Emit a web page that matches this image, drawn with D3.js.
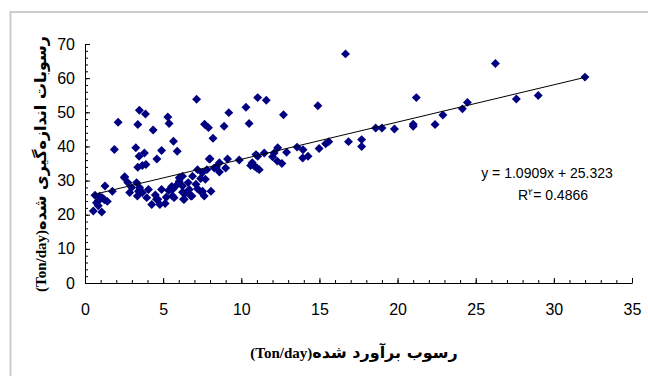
<!DOCTYPE html>
<html lang="fa">
<head>
<meta charset="utf-8">
<title>رسوب</title>
<script src="https://d3js.org/d3.v7.min.js"></script>
<style>
  body { margin: 0; background: #fff; }
  .tick text { font-family: "Liberation Sans", Arial, sans-serif; font-size: 16px; fill: #000; }
  .domain, .tick line { stroke: #000; }
  .eq { font-family: "Liberation Sans", Arial, sans-serif; font-size: 14px; fill: #000; }
  .title { font-weight: bold; fill: #000; }
</style>
</head>
<body>
<div id="chart"></div>
<script>
var w = 648, h = 376;

// estimated sediment (Ton/day)
var xValues = [
  0.53, 1.07, 0.85, 0.73, 0.85, 1.24, 0.64, 0.93, 1.1, 1.28, 1.43, 1.75, 2.52, 2.74, 2.99, 3.3, 3.42, 3.5, 3.35,
  4.06, 3.95, 4.27, 4.5, 4.66, 4.9, 5.2, 5.13, 5.35, 5.55, 5.6, 4.57, 4.79, 3.67, 2.86,
  5.6, 6.24, 6.67, 7.2, 7.52, 8.06, 5.7, 6.35, 6.78, 7.63, 6.24, 6.24, 6.03, 6.6, 7.1, 6.88, 7.4, 7.2, 7.5, 7.8,
  8.4, 8.6, 7.95, 9.12, 9.87, 10.6, 11.0, 10.94, 8.27, 9.0, 8.6, 7.7, 7.48, 5.81, 6.03, 6.4, 6.3, 6.84,
  1.88, 2.12, 3.25, 3.46, 3.8, 3.38, 3.67, 3.9, 4.6, 4.9, 4.36, 3.48, 3.87, 3.38, 5.3, 5.38, 5.66, 5.9,
  7.14, 7.65, 7.9, 8.19, 8.9, 9.2, 10.3, 10.5, 11.05, 11.6, 12.7, 14.9,
  11.05, 11.47, 12.1, 12.33, 12.6, 12.3, 12.0, 12.9, 13.57, 13.95, 13.93, 14.27, 14.98, 15.4, 15.6, 16.86,
  17.7, 17.7, 18.6, 19.0, 19.8, 21.0, 21.0, 21.2, 22.4, 22.9, 24.15, 24.47, 16.67, 26.26, 27.6, 29.0, 31.99,
  10.7, 11.15, 10.85, 2.54, 8.0
];
// measured sediment (Ton/day)
var yValues = [
  21.1, 20.8, 22.6, 23.5, 24.0, 24.4, 25.7, 25.4, 25.0, 28.4, 23.9, 26.9, 30.8, 29.4, 28.0, 29.4, 26.9, 27.9, 25.5,
  27.4, 25.0, 23.0, 25.8, 24.5, 27.4, 25.1, 23.3, 27.1, 28.3, 25.5, 24.5, 23.0, 26.5, 26.5,
  27.4, 28.4, 27.4, 27.6, 26.9, 26.9, 25.0, 24.5, 25.5, 25.5, 26.6, 31.3, 29.8, 29.4, 28.9, 31.3, 30.6, 33.2, 32.3, 33.2,
  34.0, 35.2, 36.3, 36.3, 36.0, 34.4, 33.7, 37.6, 33.7, 33.7, 32.5, 30.4, 26.4, 28.4, 30.8, 26.2, 24.5, 25.5,
  39.1, 47.1, 39.6, 37.1, 38.1, 33.9, 34.4, 34.7, 36.3, 38.8, 44.8, 50.6, 49.5, 46.4, 48.6, 46.7, 41.5, 38.6,
  53.8, 46.5, 45.5, 42.4, 45.9, 49.9, 51.5, 46.7, 54.3, 53.5, 49.3, 51.9,
  37.1, 38.1, 38.1, 39.6, 35.0, 35.7, 37.0, 38.3, 39.8, 39.0, 36.6, 37.1, 39.4, 40.8, 41.4, 41.4,
  42.0, 40.0, 45.4, 45.4, 45.1, 45.9, 46.5, 54.3, 46.4, 49.2, 51.0, 52.9, 67.1, 64.3, 53.9, 54.9, 60.3,
  35.2, 33.2, 34.2, 31.1, 36.4
];

var xTicks = [0, 5, 10, 15, 20, 25, 30, 35];
var yTicks = [0, 10, 20, 30, 40, 50, 60, 70];
var slope = 1.0909, intercept = 25.323;
var eqLabel = "y = 1.0909x + 25.323";
var r2Label = "= 0.4866";
var xTitle = "رسوب برآورد شده";
var yTitle = "رسوبات اندازه\u200Cگیری شده";
var unitLabel = "(Ton/day)";

var svg = d3.select("#chart").append("svg").attr("width", w).attr("height", h);

// frame (only top and left edges are visible)
svg.append("rect").attr("x", 10.5).attr("y", 12).attr("width", 700).attr("height", 400)
  .attr("fill", "none").attr("stroke", "#cccccc").attr("stroke-width", 2);

// caption of the page above, cut off by the top edge
svg.append("text").attr("x", 515).attr("y", -8).attr("text-anchor", "middle")
  .style("font-family", "DejaVu Sans").style("font-size", "16px")
  .text("نمودار رسوب برآورد و اندازه\u200Cگیری");

var x = d3.scaleLinear().domain([0, 35]).range([85, 632]);
var y = d3.scaleLinear().domain([0, 70]).range([283, 44]);

// minor ticks
svg.append("g").attr("transform", "translate(0,283)")
  .call(d3.axisBottom(x).tickValues(d3.range(0, 36, 1)).tickSize(-3).tickFormat(""))
  .call(g => g.select(".domain").remove());
svg.append("g").attr("transform", "translate(85,0)")
  .call(d3.axisLeft(y).tickValues(d3.range(0, 71, 2)).tickSize(-3).tickFormat(""))
  .call(g => g.select(".domain").remove());

// major axes
svg.append("g").attr("transform", "translate(0,283)")
  .call(d3.axisBottom(x).tickValues(xTicks).tickSizeInner(-5).tickSizeOuter(0).tickPadding(21));
svg.append("g").attr("transform", "translate(85,0)")
  .call(d3.axisLeft(y).tickValues(yTicks).tickSizeInner(-5).tickSizeOuter(0).tickPadding(10));

// points
var diamond = d3.symbol().type(d3.symbolSquare).size(40);
svg.append("g").selectAll("path")
  .data(xValues.map((v, i) => [v, yValues[i]]))
  .join("path")
  .attr("d", diamond)
  .attr("fill", "#000080")
  .attr("transform", d => "translate(" + x(d[0]) + "," + y(d[1]) + ") rotate(45)");

// trend line
var x0 = d3.min(xValues), x1 = d3.max(xValues);
svg.append("line")
  .attr("x1", x(x0)).attr("y1", y(slope * x0 + intercept))
  .attr("x2", x(x1)).attr("y2", y(slope * x1 + intercept))
  .attr("stroke", "#000").attr("stroke-width", 1);

// equation
svg.append("text").attr("class", "eq").attr("x", 547).attr("y", 178).attr("text-anchor", "middle").text(eqLabel);
var r2 = svg.append("text").attr("class", "eq").attr("x", 518).attr("y", 200);
r2.append("tspan").text("R");
r2.append("tspan").attr("dy", -5).style("font-size", "9px").text("۲");
r2.append("tspan").attr("dy", 5).text(r2Label);

// axis titles
var xt = svg.append("text").attr("class", "title").attr("x", 354).attr("y", 358).attr("text-anchor", "middle");
xt.append("tspan").style("font-family", "Liberation Serif").style("font-size", "15px").text(unitLabel);
xt.append("tspan").style("font-family", "DejaVu Sans").style("font-size", "16px").text(xTitle);

var yt = svg.append("text").attr("class", "title").attr("text-anchor", "middle")
  .attr("transform", "translate(46,164) rotate(-90)");
yt.append("tspan").style("font-family", "Liberation Serif").style("font-size", "15px").text(unitLabel);
yt.append("tspan").style("font-family", "DejaVu Sans").style("font-size", "16px").text(yTitle);
</script>
</body>
</html>
